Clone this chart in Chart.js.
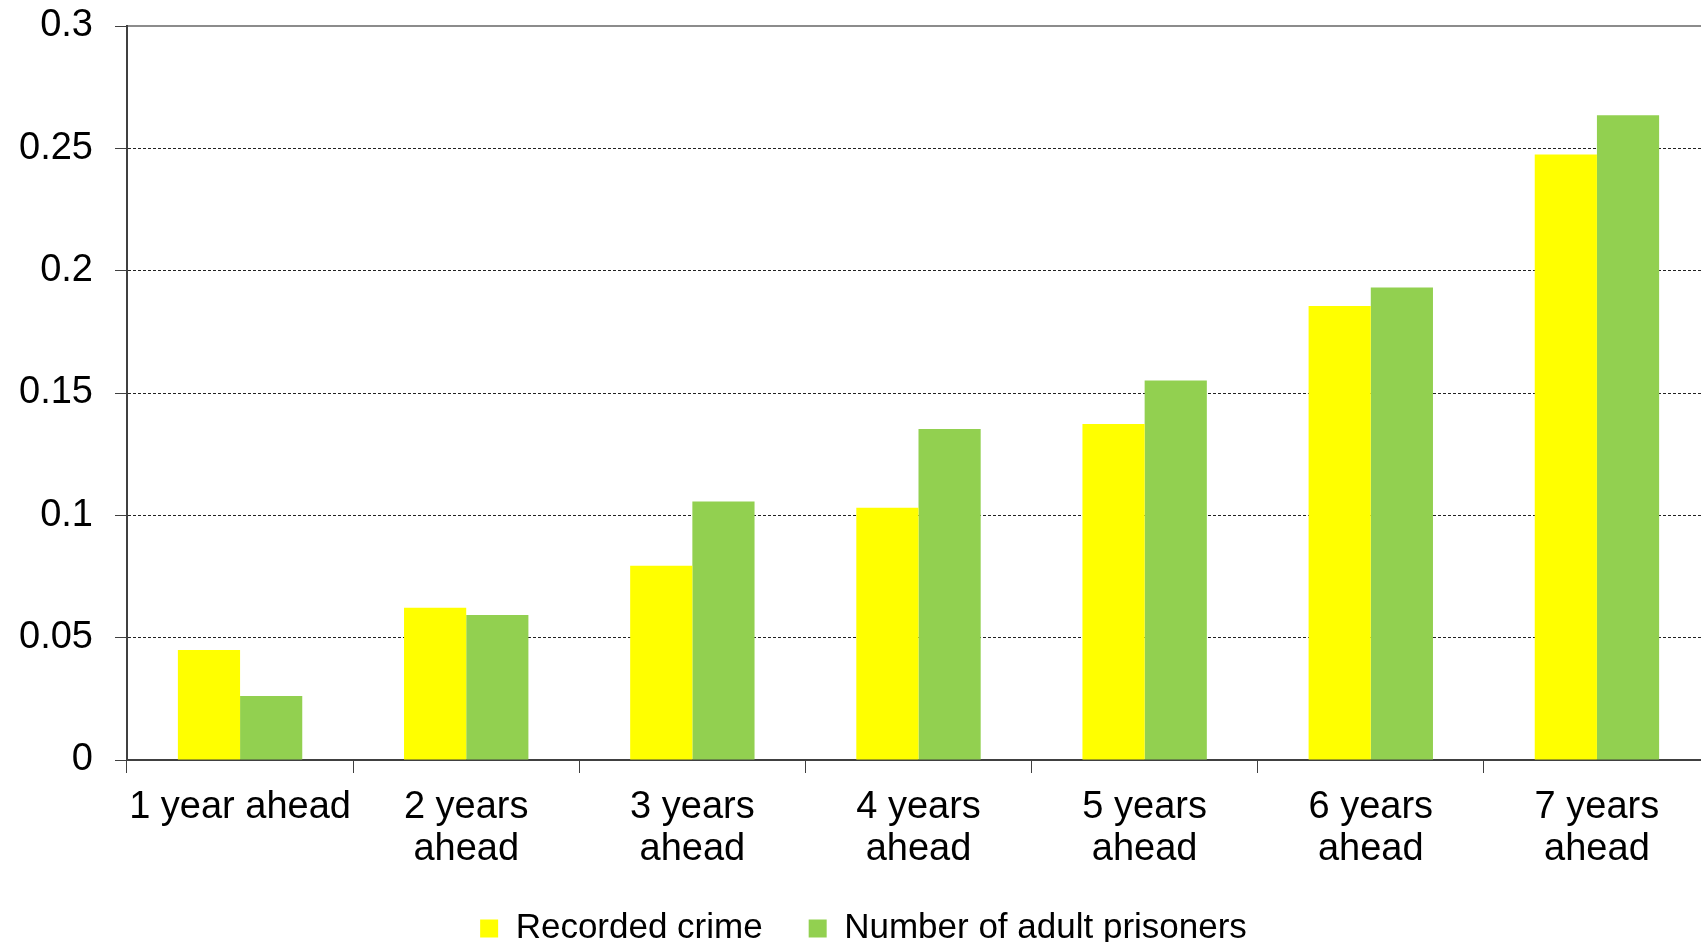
<!DOCTYPE html>
<html>
<head>
<meta charset="utf-8">
<title>Forecast error by horizon</title>
<script src="https://cdn.jsdelivr.net/npm/chart.js@4/dist/chart.umd.min.js"></script>
<style>
  html, body { margin: 0; padding: 0; background: #fff; overflow: hidden; }
  #wrap { width: 1712px; height: 956px; }
</style>
</head>
<body>
<div id="wrap"><canvas id="barChart" width="1712" height="956"></canvas></div>
<script>
// categories (multi-line labels) and the two series
const horizons = [
  '1 year ahead',
  ['2 years', 'ahead'],
  ['3 years', 'ahead'],
  ['4 years', 'ahead'],
  ['5 years', 'ahead'],
  ['6 years', 'ahead'],
  ['7 years', 'ahead']
];
const recordedCrime = [0.045, 0.0622, 0.0794, 0.1031, 0.1373, 0.1856, 0.2475];
const adultPrisoners = [0.0262, 0.0593, 0.1057, 0.1353, 0.1551, 0.1931, 0.2635];
const yTickLabels = ['0', '0.05', '0.1', '0.15', '0.2', '0.25', '0.3'];

const FONT = "'Liberation Sans', Arial, sans-serif";
const axisColor = '#404040';

const ctx = document.getElementById('barChart').getContext('2d');
new Chart(ctx, {
  type: 'bar',
  data: {
    labels: horizons,
    datasets: [
      { label: 'Recorded crime', data: recordedCrime, backgroundColor: '#FFFF00', borderWidth: 0 },
      { label: 'Number of adult prisoners', data: adultPrisoners, backgroundColor: '#92D050', borderWidth: 0 }
    ]
  },
  options: {
    responsive: false,
    animation: false,
    devicePixelRatio: 1,
    layout: { padding: { top: 26, left: 17, right: 2, bottom: 0 } },
    datasets: { bar: { categoryPercentage: 0.55, barPercentage: 1.0 } },
    plugins: {
      tooltip: { enabled: false },
      legend: {
        position: 'bottom',
        labels: {
          font: { family: FONT, size: 35, lineHeight: 1.0 },
          color: '#000',
          boxWidth: 18,
          boxHeight: 18,
          padding: 46
        }
      }
    },
    scales: {
      x: {
        // fixed band for the two-line category labels
        afterFit: scale => { scale.height = 105; },
        ticks: {
          font: { family: FONT, size: 38, lineHeight: 1.11 },
          color: '#000',
          maxRotation: 0,
          autoSkip: false,
          padding: 13
        },
        grid: {
          offset: true,
          drawOnChartArea: false,
          tickLength: 13,
          color: axisColor
        },
        border: { color: axisColor, width: 2 }
      },
      // plain top rule of the plot
      xTop: {
        type: 'category',
        position: 'top',
        ticks: { display: false },
        grid: { display: false, drawTicks: false },
        border: { display: true, color: '#8c8c8c', width: 2 }
      },
      y: {
        min: 0,
        max: 0.3,
        afterFit: scale => {
          scale.width = 110;
          scale.paddingTop = 0;
          scale.paddingBottom = 0;
        },
        ticks: {
          stepSize: 0.05,
          font: { family: FONT, size: 38 },
          color: '#000',
          padding: 22,
          callback: (v, i) => yTickLabels[i]
        },
        grid: {
          color: c => (c.index === yTickLabels.length - 1 ? 'rgba(0,0,0,0)' : '#222'),
          lineWidth: 1,
          tickLength: 12,
          tickColor: axisColor,
          tickBorderDash: []
        },
        border: { color: axisColor, width: 2, dash: [3, 2] }
      }
    }
  }
});
</script>
</body>
</html>
